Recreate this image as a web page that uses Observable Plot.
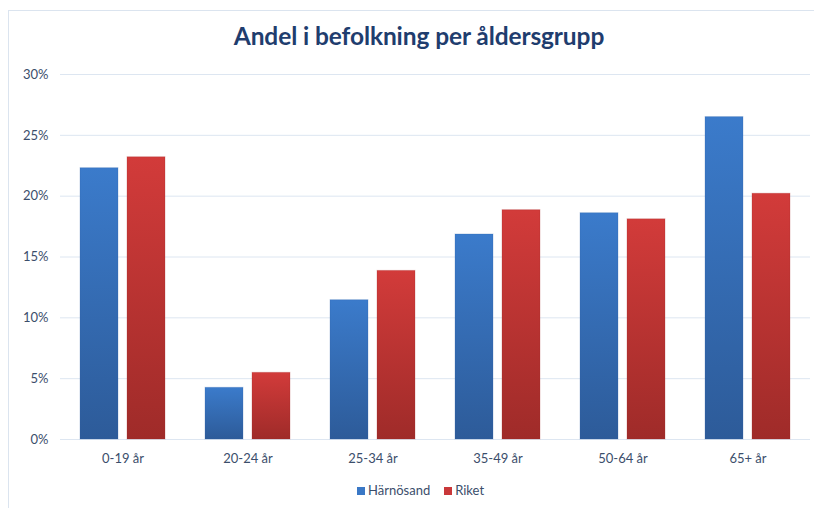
<!DOCTYPE html>
<html>
<head>
<meta charset="utf-8">
<script src="https://cdn.jsdelivr.net/npm/d3@7"></script>
<script src="https://cdn.jsdelivr.net/npm/@observablehq/plot@0.6"></script>
<style>
  html, body { margin: 0; padding: 0; background: #fff; }
  body { width: 814px; height: 508px; position: relative; overflow: hidden; font-family: Lato, "Open Sans", sans-serif; }
  #frame { position: absolute; left: 8px; top: 10px; width: 820px; height: 520px; border-left: 1px solid #dbe4ef; border-top: 1px solid #dbe4ef; }
  #title { position: absolute; left: 0; width: 838px; top: 21px; text-align: center; font-size: 24.5px; font-weight: bold; color: #1f3d6e; letter-spacing: -0.1px; }
  #chart { position: absolute; left: 0; top: 60px; }
  #legend { position: absolute; left: 357px; top: 482px; display: flex; gap: 14px; font-size: 13px; color: #3b4e6b; }
  #legend span.sw { display: inline-block; width: 8px; height: 8px; margin-right: 3px; vertical-align: 0px; }
</style>
</head>
<body>
<div id="frame"></div>
<div id="title">Andel i befolkning per åldersgrupp</div>
<div id="chart"></div>
<div id="legend"></div>
<script>
const categories = ["0-19 år", "20-24 år", "25-34 år", "35-49 år", "50-64 år", "65+ år"];
const series = ["Härnösand", "Riket"];
const harnosand = [22.3, 4.25, 11.45, 16.85, 18.6, 26.5];
const riket = [23.2, 5.48, 13.86, 18.85, 18.1, 20.2];
const yTicks = [0, 5, 10, 15, 20, 25, 30];
const colors = ["#3a78c6", "#c9383a"];

const data = [];
categories.forEach((c, i) => {
  data.push({category: c, series: series[0], value: harnosand[i]});
  data.push({category: c, series: series[1], value: riket[i]});
});

const plot = Plot.plot({
  width: 814,
  height: 420,
  marginTop: 14,
  marginBottom: 41,
  marginLeft: 57,
  marginRight: 2,
  style: {fontFamily: "Lato, 'Open Sans', sans-serif", fontSize: "12.5px", color: "#3b4e6b", background: "transparent"},
  fx: {domain: categories, padding: 0, label: null},
  x: {domain: series, paddingInner: 0.1875, paddingOuter: 0.404, axis: null},
  y: {domain: [0, 30], label: null},
  marks: [
    Plot.ruleY(yTicks, {stroke: "#dde6f1", strokeWidth: 1}),
    Plot.axisY({ticks: yTicks, tickSize: 0, tickPadding: 12, tickFormat: d => d + "%", label: null, fontSize: 13}),
    Plot.axisFx({anchor: "bottom", tickSize: 0, tickPadding: 14, label: null, fontSize: 13}),
    Plot.barY(data.filter(d => d.series === series[0]), {fx: "category", x: "series", y: "value", fill: "url(#gradBlue)", stroke: "#2f64a6", strokeOpacity: 0.25}),
    Plot.barY(data.filter(d => d.series === series[1]), {fx: "category", x: "series", y: "value", fill: "url(#gradRed)", stroke: "#a52c2c", strokeOpacity: 0.25})
  ]
});

// gradients
const ns = "http://www.w3.org/2000/svg";
const defs = document.createElementNS(ns, "defs");
function grad(id, top, bottom) {
  const g = document.createElementNS(ns, "linearGradient");
  g.setAttribute("id", id);
  g.setAttribute("x1", "0"); g.setAttribute("y1", "0");
  g.setAttribute("x2", "0"); g.setAttribute("y2", "1");
  [[0, top], [1, bottom]].forEach(([o, c]) => {
    const s = document.createElementNS(ns, "stop");
    s.setAttribute("offset", o);
    s.setAttribute("stop-color", c);
    g.appendChild(s);
  });
  defs.appendChild(g);
}
grad("gradBlue", "#3b7bcb", "#2d5b99");
grad("gradRed", "#d23b3a", "#9f2b29");
plot.insertBefore(defs, plot.firstChild);

document.getElementById("chart").appendChild(plot);

const legend = document.getElementById("legend");
series.forEach((s, i) => {
  const item = document.createElement("div");
  const sw = document.createElement("span");
  sw.className = "sw";
  sw.style.background = colors[i];
  item.appendChild(sw);
  item.appendChild(document.createTextNode(s));
  legend.appendChild(item);
});
</script>
</body>
</html>
